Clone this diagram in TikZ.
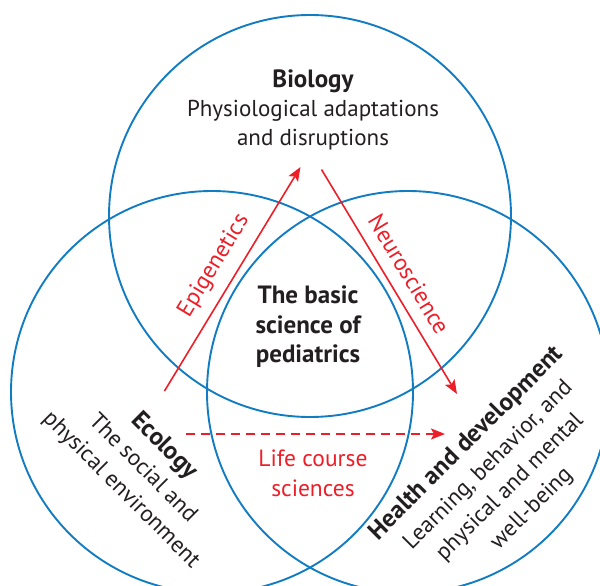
\documentclass[tikz,border=0pt]{standalone}
\usepackage{fontspec}
\setmainfont{PT Sans}
\usetikzlibrary{arrows.meta, calc}

\definecolor{ringblue}{RGB}{18,124,194}
\definecolor{linkred}{RGB}{236,30,40}
\definecolor{ink}{RGB}{35,31,32}

\newcommand{\head}[1]{{\fontsize{25}{29}\selectfont\bfseries #1}}

\begin{document}
\begin{tikzpicture}[x=1pt, y=-1pt,
  ring/.style={circle, draw=ringblue, line width=1.9pt, minimum size=402pt, inner sep=0pt},
  txt/.style={align=center, text=ink, font=\fontsize{23}{29}\selectfont},
  wide/.style={font=\fontsize{23}{30.5}\selectfont},
  hd/.style={font=\fontsize{25}{29.5}\selectfont\bfseries},
  lbl/.style={text=linkred, font=\fontsize{23.5}{30}\selectfont, align=center},
  link/.style={-{Stealth[length=14pt, width=11pt, inset=3pt]}, draw=linkred, line width=1.6pt}]
  \useasboundingbox (0,0) rectangle (600,586);

  % the three fields
  \node[ring] (bio) at (310,216) {};
  \node[ring] (eco) at (212,392) {};
  \node[ring] (hea) at (408,392) {};

  % field texts
  \node[txt] (biotxt) at (313,110) {\head{Biology}\\Physiological adaptations\\and disruptions};
  \node[txt, wide, rotate=-45] (ecotxt) at (143,468) {\head{Ecology}\\The social and\\physical environment};
  \node[txt, wide, rotate=45] (heatxt) at (499,476) {\head{Health and development}\\Learning, behavior, and\\physical and mental\\well-being};
  \node[txt, hd] (core) at (308,327) {The basic\\science of\\pediatrics};

  % links between the fields
  \coordinate (epiA) at (164.5,391);
  \coordinate (epiB) at (300.5,167);
  \coordinate (neuA) at (321.5,169.5);
  \coordinate (neuB) at (457,394);
  \coordinate (lifA) at (186,434);
  \coordinate (lifB) at (445,434);

  \draw[link] (epiA) -- (epiB);
  \draw[link] (neuA) -- (neuB);
  \draw[link, dash pattern=on 9pt off 6pt] (lifA) -- (lifB);

  \node[lbl, rotate=58.8] (epi) at (214,266) {Epigenetics};
  \node[lbl, rotate=-58.9] (neu) at (409,274) {Neuroscience};
  \node[lbl] (lif) at (313,473) {Life course\\sciences};
\end{tikzpicture}
\end{document}
